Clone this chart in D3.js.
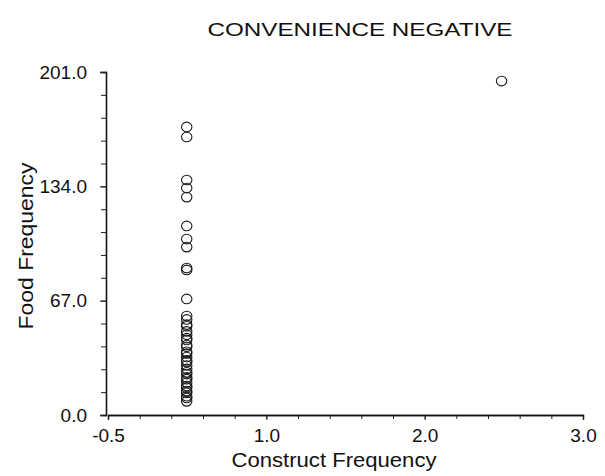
<!DOCTYPE html>
<html>
<head>
<meta charset="utf-8">
<script src="https://cdn.jsdelivr.net/npm/d3@7"></script>
<style>
  body { margin: 0; background: #fff; }
  svg text { font-family: "Liberation Sans", Arial, sans-serif; fill: #111; }
</style>
</head>
<body>
<div id="vis"></div>
<script>
// values
var columnX = 0.08;
var columnY = [168.8, 162.9, 137.7, 133.0, 127.7, 110.8, 103.1, 98.4, 86.1, 85.0, 68.0,
  58, 56, 53, 52, 49, 47, 45, 44, 41, 40, 37, 36, 34, 32, 31, 29, 27, 25, 24,
  22, 21, 19, 17, 16, 14, 13, 11, 10, 8];
var outlierX = [2.40];
var outlierY = [195.7];

var xDomain = [-0.5, 3.0];
var yDomain = [0, 201];
var xTickLabels = ["-0.5", "1.0", "2.0", "3.0"];
var yTickValues = [0, 67, 134, 201];
var yTickLabels = ["0.0", "67.0", "134.0", "201.0"];

var points = columnY.map(function(v) { return {x: columnX, y: v}; });
outlierX.forEach(function(v, i) { points.push({x: v, y: outlierY[i]}); });

var W = 605, H = 476;
var margin = {top: 72, right: 22, bottom: 61, left: 108};

var svg = d3.select("#vis").append("svg")
    .attr("width", W)
    .attr("height", H);

var x = d3.scaleLinear().domain(xDomain).range([margin.left, W - margin.right]);
var y = d3.scaleLinear().domain(yDomain).range([H - margin.bottom, margin.top]);

// major x ticks sit evenly over the domain, 5 minor steps in each
var xStep = (xDomain[1] - xDomain[0]) / 3;
var xMajor = xTickLabels.map(function(d, i) { return xDomain[0] + i * xStep; });
var xMinor = d3.range(16).map(function(i) { return xDomain[0] + i * xStep / 5; });
var yMinor = d3.range(16).map(function(i) { return i * 67 / 5; });

var xPos = "translate(0," + y(0) + ")";
var yPos = "translate(" + (x(xDomain[0]) - 2) + ",0)";

svg.append("g").attr("transform", xPos)
    .call(d3.axisBottom(x).tickValues(xMinor).tickSize(4).tickFormat(""));
svg.append("g").attr("transform", xPos)
    .call(d3.axisBottom(x).tickValues(xMajor).tickSize(5).tickPadding(9)
      .tickFormat(function(d, i) { return xTickLabels[i]; }));

svg.append("g").attr("transform", yPos)
    .call(d3.axisLeft(y).tickValues(yMinor).tickSize(5).tickFormat(""));
svg.append("g").attr("transform", yPos)
    .call(d3.axisLeft(y).tickValues(yTickValues).tickSize(6).tickPadding(13)
      .tickFormat(function(d, i) { return yTickLabels[i]; }));

svg.selectAll(".domain").attr("stroke", "#111").attr("stroke-width", 1.3);
svg.selectAll(".tick line").attr("stroke", "#222");
svg.selectAll(".tick text").style("font-size", "19px");

svg.selectAll("ellipse.pt")
    .data(points)
    .enter().append("ellipse")
    .attr("class", "pt")
    .attr("cx", function(d) { return x(d.x); })
    .attr("cy", function(d) { return y(d.y); })
    .attr("rx", 5.2)
    .attr("ry", 4.8)
    .attr("fill", "none")
    .attr("stroke", "#1a1a1a")
    .attr("stroke-width", 1.1);

svg.append("text")
    .attr("x", 360)
    .attr("y", 36)
    .attr("text-anchor", "middle")
    .attr("textLength", 305)
    .attr("lengthAdjust", "spacingAndGlyphs")
    .style("font-size", "18.5px")
    .text("CONVENIENCE NEGATIVE");

svg.append("text")
    .attr("x", 334)
    .attr("y", 467)
    .attr("text-anchor", "middle")
    .attr("textLength", 205)
    .attr("lengthAdjust", "spacingAndGlyphs")
    .style("font-size", "20px")
    .text("Construct Frequency");

svg.append("text")
    .attr("transform", "translate(33,246) rotate(-90)")
    .attr("text-anchor", "middle")
    .attr("textLength", 167)
    .attr("lengthAdjust", "spacingAndGlyphs")
    .style("font-size", "20px")
    .text("Food Frequency");
</script>
</body>
</html>
